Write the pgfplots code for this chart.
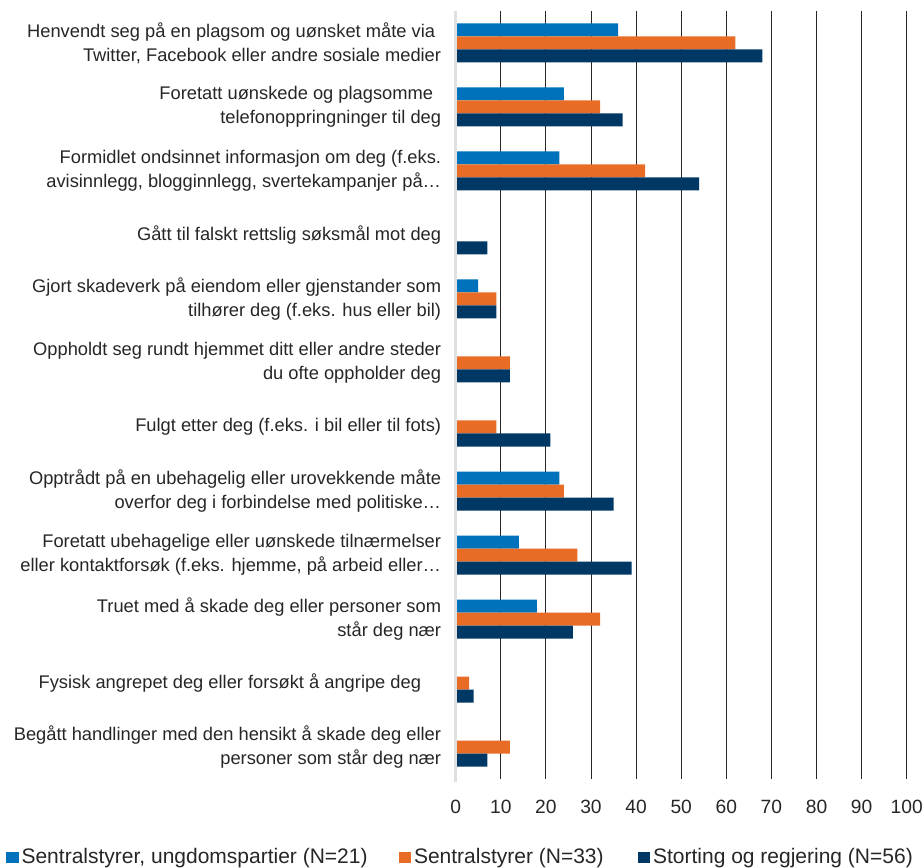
\documentclass[border=0pt]{standalone}
\usepackage{fontspec}
\setmainfont{Liberation Sans}
\usepackage{pgfplots}
\pgfplotsset{compat=1.18}

\definecolor{cblue}{RGB}{0,114,187}
\definecolor{corange}{RGB}{232,108,38}
\definecolor{cnavy}{RGB}{0,56,101}
\definecolor{ctext}{RGB}{38,38,38}

\begin{document}
\begin{tikzpicture}
\begin{axis}[
  name=ax,
  scale only axis,
  width=225.5pt, height=384pt,
  xmin=0, xmax=100,
  ymin=-0.5, ymax=11.5,
  xtick={0,10,...,100},
  ytick={0,...,11},
  yticklabels={
    {Begått handlinger med den hensikt å skade deg eller\\personer som står deg nær},
    {Fysisk angrepet deg eller forsøkt å angripe deg\hspace*{10pt}},
    {Truet med å skade deg eller personer som\\står deg nær},
    {Foretatt ubehagelige eller uønskede tilnærmelser\\eller kontaktforsøk (f.eks. hjemme, på arbeid eller…},
    {Opptrådt på en ubehagelig eller urovekkende måte\\overfor deg i forbindelse med politiske…},
    {Fulgt etter deg (f.eks. i bil eller til fots)},
    {Oppholdt seg rundt hjemmet ditt eller andre steder\\du ofte oppholder deg},
    {Gjort skadeverk på eiendom eller gjenstander som\\tilhører deg (f.eks. hus eller bil)},
    {Gått til falskt rettslig søksmål mot deg},
    {Formidlet ondsinnet informasjon om deg (f.eks.\\avisinnlegg, blogginnlegg, svertekampanjer på…},
    {Foretatt uønskede og plagsomme\hspace*{4pt}\\telefonoppringninger til deg},
    {Henvendt seg på en plagsom og uønsket måte via\hspace*{3pt}\\Twitter, Facebook eller andre sosiale medier}
  },
  yticklabel style={align=right, font=\fontsize{9.15}{12}\selectfont, text=ctext, xshift=0.5pt},
  xticklabel style={font=\fontsize{9.6}{11}\selectfont, text=ctext, yshift=-7pt},
  /pgf/number format/assume math mode=true,
  axis line style={draw=none},
  major tick style={draw=none},
  xmajorgrids,
  grid style={black!85, line width=0.5pt},
  xbar, bar width=6.5pt,
  legend columns=3,
  legend style={draw=none, fill=none, at={(0.0084,-0.1025)}, anchor=center,
    font=\fontsize{10.5}{12}\selectfont, text=ctext,
    nodes={inner xsep=0pt},
    /tikz/column 1/.style={column sep=1.5pt},
    /tikz/column 3/.style={column sep=1.5pt},
    /tikz/column 5/.style={column sep=1.5pt},
    /tikz/column 2/.style={column sep=15.5pt},
    /tikz/column 4/.style={column sep=17pt}},
  legend image code/.code={\fill[#1] (0pt,-2.6pt) rectangle (6.2pt,3pt);},
  clip=false,
]
\addplot[draw=none, fill=cblue, bar shift=6.5pt] coordinates {
  (36,11) (24,10) (23,9) (5,7) (23,4) (14,3) (18,2)
};
\addplot[draw=none, fill=corange, bar shift=0pt] coordinates {
  (62,11) (32,10) (42,9) (9,7) (12,6) (9,5) (24,4) (27,3) (32,2) (3,1) (12,0)
};
\addplot[draw=none, fill=cnavy, bar shift=-6.5pt] coordinates {
  (68,11) (37,10) (54,9) (7,8) (9,7) (12,6) (21,5) (35,4) (39,3) (26,2) (4,1) (7,0)
};
\legend{{Sentralstyrer, ungdomspartier (N=21)}, {Sentralstyrer (N=33)}, {Storting og regjering (N=56)}}
\draw[black!12, line width=1.2pt] (axis cs:0,-0.55) -- (axis cs:0,11.5);
\end{axis}
\pgfresetboundingbox
\path ([shift={(-227.85pt,-44pt)}]ax.south west) rectangle ([shift={(234.15pt,389.5pt)}]ax.south west);
\end{tikzpicture}
\end{document}
